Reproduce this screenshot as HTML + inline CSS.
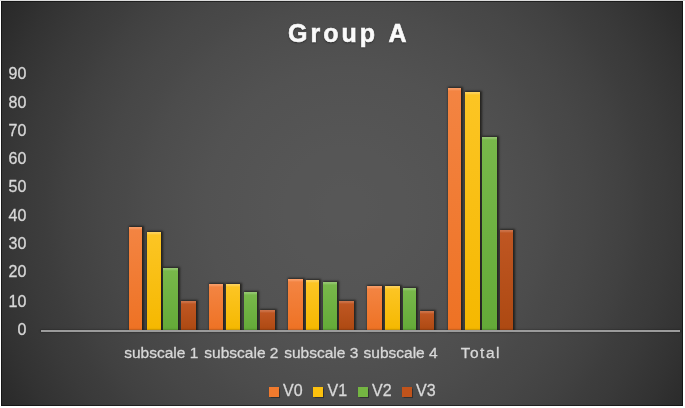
<!DOCTYPE html>
<html><head><meta charset="utf-8"><style>
html,body{margin:0;padding:0;}
body{width:685px;height:408px;overflow:hidden;background:#fff;position:relative;font-family:"Liberation Sans",sans-serif;}
#chart{position:absolute;left:1px;top:1px;width:682px;height:405px;box-sizing:border-box;border:1px solid rgba(0,0,0,.5);background-clip:padding-box;
 background:radial-gradient(circle 420px at 343.6px 206.1px, rgb(87,87,87) 0px, rgb(87,87,87) 20px, rgb(86,86,86) 40px, rgb(86,86,86) 60px, rgb(85,85,85) 80px, rgb(84,84,84) 100px, rgb(83,83,83) 120px, rgb(82,82,82) 140px, rgb(80,80,80) 160px, rgb(78,78,78) 180px, rgb(76,76,76) 200px, rgb(73,73,73) 220px, rgb(71,71,71) 240px, rgb(68,68,68) 260px, rgb(65,65,65) 280px, rgb(61,61,61) 300px, rgb(58,58,58) 320px, rgb(54,54,54) 340px, rgb(50,50,50) 360px, rgb(45,45,45) 380px, rgb(41,41,41) 400px, rgb(36,36,36) 420px);overflow:hidden;}
.abs{position:absolute;}
.title{position:absolute;left:288px;top:20.7px;-webkit-text-stroke:0.6px #fafafa;line-height:25px;font-weight:bold;font-size:25px;letter-spacing:3px;word-spacing:1.5px;color:#fafafa;text-shadow:0 1px 2px rgba(0,0,0,.5);}
.yl{position:absolute;-webkit-text-stroke:0.3px #d8d8d8;left:0;width:26.3px;text-align:right;font-size:16px;line-height:16px;color:#d8d8d8;}
.xl{position:absolute;-webkit-text-stroke:0.3px #d8d8d8;top:345.2px;width:100px;text-align:center;font-size:15.5px;line-height:16px;color:#d8d8d8;}
.bar{position:absolute;box-shadow:1px 0 2px 1px rgba(8,6,2,.6);}
.axis{position:absolute;left:41px;top:330px;width:639px;height:2px;background:#9b9b9b;box-shadow:0 0 1.5px 0.5px rgba(0,0,0,.3);}
.sq{position:absolute;top:387px;width:10px;height:10px;box-shadow:0 0 1px 0.5px rgba(0,0,0,.35);}
.lt{position:absolute;-webkit-text-stroke:0.3px #d8d8d8;top:383.2px;font-size:16px;line-height:16px;color:#d8d8d8;}
#wrap{position:absolute;left:0;top:0;width:685px;height:408px;filter:blur(0.35px);}
</style></head><body><div id="wrap">
<div id="chart"></div><div style="position:absolute;left:0;top:0;width:685px;height:1px;background:#dcdcdc"></div>
<div class="title">Group A</div>
<div class="yl" style="top:321.99px">0</div><div class="yl" style="top:293.99px">10</div><div class="yl" style="top:264.39px">20</div><div class="yl" style="top:236.19px">30</div><div class="yl" style="top:208.49px">40</div><div class="yl" style="top:179.09px">50</div><div class="yl" style="top:151.09px">60</div><div class="yl" style="top:122.99px">70</div><div class="yl" style="top:95.19px">80</div><div class="yl" style="top:65.99px">90</div>
<div class="bar" style="left:129.20px;top:227.30px;width:13.30px;height:102.70px;background:linear-gradient(#f89c66 0,#f89c66 1px,#f38442 3px,#ee7224)"></div><div class="bar" style="left:146.90px;top:231.60px;width:13.70px;height:98.40px;background:linear-gradient(#fdd25a 0,#fdd25a 1px,#fcc524 3px,#f5b800)"></div><div class="bar" style="left:163.00px;top:268.40px;width:15.00px;height:61.60px;background:linear-gradient(#94c670 0,#94c670 1px,#78b84a 3px,#64aa38)"></div><div class="bar" style="left:180.50px;top:300.90px;width:15.00px;height:29.10px;background:linear-gradient(#cc7248 0,#cc7248 1px,#bf5622 3px,#ad4912)"></div><div class="bar" style="left:208.50px;top:284.10px;width:14.90px;height:45.90px;background:linear-gradient(#f89c66 0,#f89c66 1px,#f38442 3px,#ee7224)"></div><div class="bar" style="left:226.00px;top:284.10px;width:14.00px;height:45.90px;background:linear-gradient(#fdd25a 0,#fdd25a 1px,#fcc524 3px,#f5b800)"></div><div class="bar" style="left:243.80px;top:291.60px;width:13.70px;height:38.40px;background:linear-gradient(#94c670 0,#94c670 1px,#78b84a 3px,#64aa38)"></div><div class="bar" style="left:259.90px;top:309.60px;width:15.10px;height:20.40px;background:linear-gradient(#cc7248 0,#cc7248 1px,#bf5622 3px,#ad4912)"></div><div class="bar" style="left:288.10px;top:278.80px;width:14.60px;height:51.20px;background:linear-gradient(#f89c66 0,#f89c66 1px,#f38442 3px,#ee7224)"></div><div class="bar" style="left:305.60px;top:280.40px;width:13.30px;height:49.60px;background:linear-gradient(#fdd25a 0,#fdd25a 1px,#fcc524 3px,#f5b800)"></div><div class="bar" style="left:323.30px;top:281.50px;width:14.00px;height:48.50px;background:linear-gradient(#94c670 0,#94c670 1px,#78b84a 3px,#64aa38)"></div><div class="bar" style="left:339.30px;top:300.70px;width:15.20px;height:29.30px;background:linear-gradient(#cc7248 0,#cc7248 1px,#bf5622 3px,#ad4912)"></div><div class="bar" style="left:367.40px;top:285.90px;width:14.30px;height:44.10px;background:linear-gradient(#f89c66 0,#f89c66 1px,#f38442 3px,#ee7224)"></div><div class="bar" style="left:384.90px;top:285.90px;width:15.00px;height:44.10px;background:linear-gradient(#fdd25a 0,#fdd25a 1px,#fcc524 3px,#f5b800)"></div><div class="bar" style="left:402.70px;top:287.50px;width:13.70px;height:42.50px;background:linear-gradient(#94c670 0,#94c670 1px,#78b84a 3px,#64aa38)"></div><div class="bar" style="left:420.20px;top:310.60px;width:13.80px;height:19.40px;background:linear-gradient(#cc7248 0,#cc7248 1px,#bf5622 3px,#ad4912)"></div><div class="bar" style="left:448.30px;top:87.60px;width:12.70px;height:242.40px;background:linear-gradient(#f89c66 0,#f89c66 1px,#f38442 3px,#ee7224)"></div><div class="bar" style="left:464.50px;top:91.90px;width:15.00px;height:238.10px;background:linear-gradient(#fdd25a 0,#fdd25a 1px,#fcc524 3px,#f5b800)"></div><div class="bar" style="left:482.20px;top:137.20px;width:14.80px;height:192.80px;background:linear-gradient(#94c670 0,#94c670 1px,#78b84a 3px,#64aa38)"></div><div class="bar" style="left:499.80px;top:230.40px;width:13.40px;height:99.60px;background:linear-gradient(#cc7248 0,#cc7248 1px,#bf5622 3px,#ad4912)"></div>
<div class="axis"></div>
<div class="xl" style="left:111.3px">subscale 1</div><div class="xl" style="left:191.4px">subscale 2</div><div class="xl" style="left:271.3px">subscale 3</div><div class="xl" style="left:350.6px">subscale 4</div><div class="xl" style="left:430.1px;letter-spacing:1.5px;text-indent:1.5px">Total</div>
<div class="sq" style="left:268.5px;background:#f07a2e"></div><div class="lt" style="left:283.0px">V0</div><div class="sq" style="left:313px;background:#fcc10e"></div><div class="lt" style="left:327.5px">V1</div><div class="sq" style="left:357.5px;background:#74b542"></div><div class="lt" style="left:372.0px">V2</div><div class="sq" style="left:401.5px;background:#c0531b"></div><div class="lt" style="left:416.0px">V3</div>
</div></body></html>
